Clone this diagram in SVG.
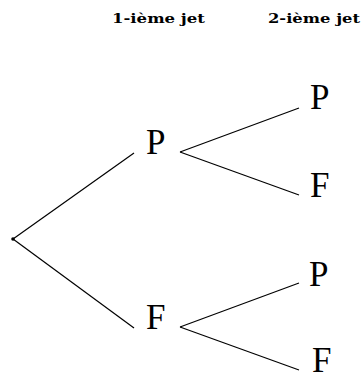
<svg xmlns="http://www.w3.org/2000/svg" width="363" height="374" viewBox="0 0 363 374">
<style>
.hdr{font-family:"DejaVu Serif","Liberation Serif",serif;font-weight:bold;font-size:12px;fill:#000}
.lbl{font-family:"Liberation Serif","Times New Roman",serif;font-size:35px;fill:#000}
.edge{stroke:#000;stroke-width:1.2;fill:none}
.dot{fill:#000}
</style>
<rect width="363" height="374" fill="#fff"/>
<g id="headers">
<text class="hdr" x="112" y="23" textLength="93" lengthAdjust="spacingAndGlyphs">1-ième jet</text>
<text class="hdr" x="268" y="23" textLength="92" lengthAdjust="spacingAndGlyphs">2-ième jet</text>
</g>
<g id="connectors">
<line class="edge" x1="13" y1="239" x2="134" y2="153"/>
<line class="edge" x1="13" y1="239" x2="134" y2="328"/>
<line class="edge" x1="180" y1="152" x2="299" y2="108"/>
<line class="edge" x1="180" y1="152" x2="299" y2="195"/>
<line class="edge" x1="180" y1="327" x2="299" y2="283"/>
<line class="edge" x1="180" y1="327" x2="299" y2="370"/>
</g>
<g id="root"><circle class="dot" cx="13" cy="239" r="1.8"/></g>
<g id="n1P"><text class="lbl" x="146" y="154">P</text></g>
<g id="n1F"><text class="lbl" x="146" y="329">F</text></g>
<g id="n2PP"><text class="lbl" x="310" y="109">P</text></g>
<g id="n2PF"><text class="lbl" x="310" y="197">F</text></g>
<g id="n2FP"><text class="lbl" x="309" y="286">P</text></g>
<g id="n2FF"><text class="lbl" x="312" y="372">F</text></g>
</svg>
